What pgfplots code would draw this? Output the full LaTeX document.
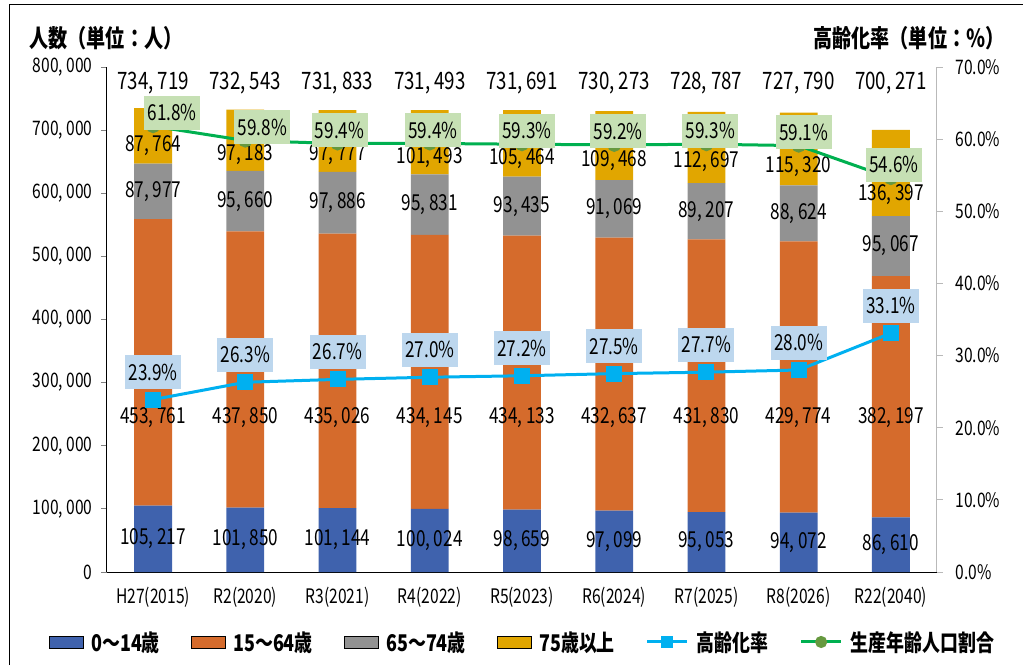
\documentclass[border=0pt]{standalone}
\usepackage{fontspec}
\setmainfont{Noto Sans CJK JP}[FakeStretch=0.78]
\usepackage{pgfplots}
\pgfplotsset{compat=1.18}
\usepackage{pgfplotstable}

\definecolor{cb}{HTML}{3F62AD}
\definecolor{co}{HTML}{D56B2C}
\definecolor{cg}{HTML}{929292}
\definecolor{cy}{HTML}{E1A600}
\definecolor{lb}{HTML}{00B0F0}
\definecolor{lg}{HTML}{00B050}
\definecolor{mg}{HTML}{66993F}
\definecolor{bxb}{HTML}{BDD7EE}
\definecolor{bxg}{HTML}{C6E0B4}

% population by age group, with label positions (ya..yt)
\pgfplotstableread{
x a b c d tot ya yb yc yd yt
0 105217 453761 87977 87764 734719 52609 244000 602967 674851 775000
1 101850 437850 95660 97183 732543 50925 244000 587530 661000 775000
2 101144 435026 97886 97777 731833 50572 244000 585113 662000 775000
3 100024 434145 95831 101493 731493 50012 244000 582085 656000 775000
4 98659 434133 93435 105464 731691 49330 244000 579510 655000 775000
5 97099 432637 91069 109468 730273 48550 244000 575271 652000 775000
6 95053 431830 89207 112697 728787 47527 244000 571487 650000 775000
7 94072 429774 88624 115320 727790 47036 244000 568158 642000 775000
8 86610 382197 95067 136397 700271 43305 244000 516341 598000 775000
}\pop

% rates (%)
\pgfplotstableread{
x r w dx
0 23.9 61.8 19
1 26.3 59.8 17
2 26.7 59.4 2
3 27.0 59.4 3
4 27.2 59.3 5
5 27.5 59.2 4
6 27.7 59.3 4
7 28.0 59.1 5
8 33.1 54.6 3
}\rates

\pgfplotsset{
  base/.style={
    scale only axis, width=830pt, height=505pt,
    at={(107pt,93pt)}, anchor=south west,
    xmin=-0.5, xmax=8.5,
  },
  barleg/.style={legend image code/.code={\fill[##1] (0pt,-6pt) rectangle (34pt,6pt);}},
  lineleg/.style={legend image code/.code={%
    \draw[##1, mark size=4.5pt] (0pt,0pt) -- (40pt,0pt);
    \draw[##1, mark size=4.5pt, draw=none] plot coordinates {(20pt,0pt)};}},
}

\newcommand{\numfmt}[1]{\pgfmathprintnumber[fixed,precision=0,1000 sep={,\,},assume math mode=true]{#1}}

\begin{document}
\begin{tikzpicture}[x=1pt,y=1pt]
\useasboundingbox (0,0) rectangle (1023,665);
\draw[line width=1pt] (9,0) -- (9,660) -- (1023,660);

% ---- bars ----
\begin{axis}[base,
  ybar stacked, bar width=0.41,
  ymin=0, ymax=800000,
  axis y line*=left, axis x line*=bottom,
  axis line style={line width=1pt},
  xtick={0,...,8},
  xticklabels={H27(2015),R2(2020),R3(2021),R4(2022),R5(2023),R6(2024),R7(2025),R8(2026),R22(2040)},
  x tick style={draw=none},
  extra x ticks={-0.5,0.5,1.5,2.5,3.5,4.5,5.5,6.5,7.5,8.5},
  extra x tick labels={},
  extra x tick style={tick align=outside, major tick length=7pt, tick style={draw=black, line width=1pt}},
  x tick label style={font=\fontsize{20}{20}\selectfont, yshift=-6pt},
  ytick={0,100000,...,800000},
  tick align=outside, major tick length=6pt,
  y tick style={line width=1pt},
  scaled y ticks=false,
  y tick label style={font=\fontsize{20}{20}\selectfont, xshift=-5pt},
  yticklabel={\numfmt{\tick}},
  clip=false,
]
\addplot[fill=cb, draw=none] table[x=x,y=a]{\pop};
\addplot[fill=co, draw=none] table[x=x,y=b]{\pop};
\addplot[fill=cg, draw=none] table[x=x,y=c]{\pop};
\addplot[fill=cy, draw=none] table[x=x,y=d]{\pop};
\end{axis}

% ---- bar data labels ----
\begin{axis}[base, hide axis, ymin=0, ymax=800000, clip=false,
  nodes near coords={\numfmt{\pgfplotspointmeta}},
  point meta=explicit,
  every node near coord/.append style={anchor=center, inner sep=0pt, text=black,
     font=\fontsize{22}{22}\selectfont},
]
\addplot[draw=none, mark=none] table[x=x,y=ya,meta=a]{\pop};
\addplot[draw=none, mark=none] table[x=x,y=yb,meta=b]{\pop};
\addplot[draw=none, mark=none] table[x=x,y=yc,meta=c]{\pop};
\addplot[draw=none, mark=none] table[x=x,y=yd,meta=d]{\pop};
\addplot[draw=none, mark=none, every node near coord/.append style={font=\fontsize{24}{24}\selectfont}] table[x=x,y=yt,meta=tot]{\pop};
\end{axis}

% ---- rates ----
\begin{axis}[base, ymin=0, ymax=70,
  axis y line*=right, axis x line=none,
  y axis line style={draw=gray!55, line width=1pt},
  ytick={0,10,...,70},
  tick align=outside, major tick length=6pt,
  y tick style={draw=gray!55, line width=1pt},
  yticklabel={\pgfmathprintnumber[fixed,fixed zerofill,precision=1,assume math mode=true]{\tick}\%},
  y tick label style={font=\fontsize{20}{20}\selectfont, xshift=9pt},
  clip=false,
  legend columns=6,
  legend style={draw=none, fill=none, at={(0.5,-0.1386)}, anchor=center,
    font=\bfseries\fontsize{23}{23}\selectfont,
    /tikz/every even column/.append style={column sep=30pt},
    /tikz/every odd column/.append style={column sep=7pt},
    nodes={inner sep=1pt}},
]
\addlegendimage{barleg, fill=cb}
\addlegendimage{barleg, fill=co}
\addlegendimage{barleg, fill=cg}
\addlegendimage{barleg, fill=cy}
\addplot[lineleg, color=lb, line width=3pt, mark=square*, mark size=6.5pt,
  mark options={fill=lb, draw=lb},
  nodes near coords={\pgfmathprintnumber[fixed,fixed zerofill,precision=1,assume math mode=true]{\pgfplotspointmeta}\%},
  every node near coord/.append style={anchor=south, yshift=9pt, fill=bxb, text=black,
    minimum width=56pt, minimum height=34pt, inner sep=2pt,
    font=\fontsize{22}{22}\selectfont},
] table[x=x,y=r]{\rates};
\addplot[lineleg, color=lg, line width=3pt, mark=*, mark size=5.5pt,
  mark options={fill=mg, draw=mg},
  visualization depends on={\thisrow{dx} \as \dx},
  nodes near coords={\pgfmathprintnumber[fixed,fixed zerofill,precision=1,assume math mode=true]{\pgfplotspointmeta}\%},
  every node near coord/.append style={anchor=south, yshift=-5pt, xshift=\dx pt, fill=bxg, text=black,
    minimum width=56pt, minimum height=34pt, inner sep=2pt,
    font=\fontsize{22}{22}\selectfont},
] table[x=x,y=w]{\rates};
\legend{0～14歳,15～64歳,65～74歳,75歳以上,高齢化率,生産年齢人口割合}
\end{axis}

\node[anchor=west, font=\bfseries\fontsize{24.5}{24.5}\selectfont] at (26,627) {人数（単位：人）};
\node[anchor=east, font=\bfseries\fontsize{24.5}{24.5}\selectfont] at (1008,627) {高齢化率（単位：％）};
\end{tikzpicture}
\end{document}
